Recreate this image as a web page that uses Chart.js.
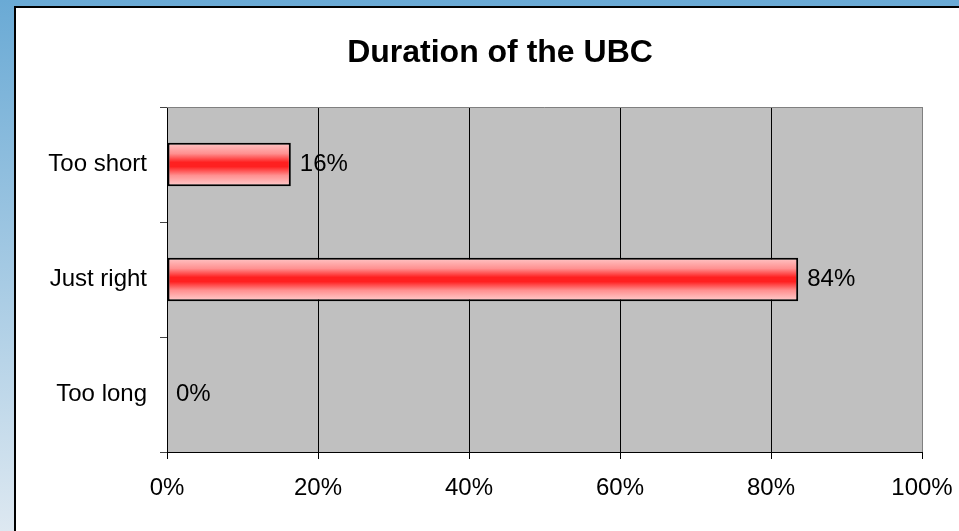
<!DOCTYPE html>
<html><head><meta charset="utf-8">
<script src="https://cdn.jsdelivr.net/npm/chart.js@4"></script>
<style>
html,body{margin:0;padding:0;width:959px;height:531px;overflow:hidden;background:linear-gradient(to bottom,#6AAAD5,#DDE8F1);}
#box{position:absolute;left:14px;top:6px;width:1000px;height:600px;border:2px solid #000;background:#fff;}
#c{position:absolute;left:0;top:0;}
</style></head><body>
<div id="box"></div>
<canvas id="c" width="1010" height="531"></canvas>
<script>
const categories = ['Too short', 'Just right', 'Too long'];
const percentValues = [16.4, 83.6, 0];
const valueLabels = ['16%', '84%', '0%'];
const xTicks = [0, 20, 40, 60, 80, 100];
const chartTitle = 'Duration of the UBC';

const FONT = "'Liberation Sans', Arial, sans-serif";
const BAR_PCT = 0.38;

function barGradient(ctx) {
  const chart = ctx.chart;
  if (!chart.chartArea || !chart.scales.y) return '#FF3030';
  const ys = chart.scales.y;
  const y = ys.getPixelForValue(ctx.dataIndex);
  const half = (ys.height / categories.length) * BAR_PCT / 2;
  const g = chart.ctx.createLinearGradient(0, y - half, 0, y + half);
  g.addColorStop(0, '#FFC8C8');
  g.addColorStop(0.25, '#FF9090');
  g.addColorStop(0.45, '#FF2020');
  g.addColorStop(0.55, '#FF2020');
  g.addColorStop(0.75, '#FF9090');
  g.addColorStop(1, '#FFD0D0');
  return g;
}

const plotBg = {
  id: 'plotBg',
  beforeDraw(chart) {
    // let the category labels extend left of the (narrow) y-axis box
    if (chart.scales.y) chart.scales.y._computeLabelArea = () => undefined;
    const a = chart.chartArea, c = chart.ctx;
    c.save();
    c.fillStyle = '#C0C0C0';
    c.fillRect(a.left, a.top, a.right - a.left, a.bottom - a.top);
    c.restore();
  },
  afterDraw(chart) {
    const a = chart.chartArea, c = chart.ctx;
    c.save();
    c.strokeStyle = '#808080';
    c.lineWidth = 1;
    c.beginPath();
    c.moveTo(a.left, Math.round(a.top) + 0.5);
    c.lineTo(a.right, Math.round(a.top) + 0.5);
    c.stroke();
    c.restore();
  }
};

const dataLabels = {
  id: 'dataLabels',
  afterDatasetsDraw(chart) {
    const c = chart.ctx;
    const meta = chart.getDatasetMeta(0);
    c.save();
    c.fillStyle = '#000';
    c.font = '24px ' + FONT;
    c.textAlign = 'left';
    c.textBaseline = 'middle';
    meta.data.forEach((bar, i) => {
      c.fillText(valueLabels[i], bar.x + 9, bar.y);
    });
    c.restore();
  }
};

new Chart(document.getElementById('c'), {
  type: 'bar',
  data: {
    labels: categories,
    datasets: [{
      data: percentValues,
      backgroundColor: barGradient,
      borderColor: '#000',
      borderWidth: 2,
      borderSkipped: false,
      categoryPercentage: 1,
      barPercentage: BAR_PCT
    }]
  },
  options: {
    indexAxis: 'y',
    responsive: false,
    animation: false,
    devicePixelRatio: 1,
    layout: { padding: { left: 78, right: 88, top: 0, bottom: 0 } },
    plugins: {
      legend: { display: false },
      tooltip: { enabled: false },
      title: {
        display: true,
        text: chartTitle,
        color: '#000',
        font: { family: FONT, size: 32, weight: 'bold', lineHeight: 1.2 },
        padding: { top: 34, bottom: 34.6 }
      }
    },
    scales: {
      x: {
        type: 'linear',
        min: 0,
        max: 100,
        afterBuildTicks: s => { s.ticks = xTicks.map(v => ({ value: v })); },
        ticks: {
          callback: v => v + '%',
          color: '#000',
          font: { family: FONT, size: 24 },
          padding: 15,
          maxRotation: 0,
          autoSkip: false
        },
        grid: {
          color: c => (c.tick && c.tick.value === 100) ? '#808080' : '#000',
          lineWidth: 1,
          tickLength: 7,
          tickColor: '#000'
        },
        border: { color: '#000', width: 1 },
        afterFit: s => { s.height = 79; }
      },
      y: {
        ticks: { color: '#000', font: { family: FONT, size: 24 }, padding: 13 },
        grid: { drawOnChartArea: false, tickLength: 7, color: '#444', offset: true },
        border: { color: '#000', width: 1 },
        afterFit: s => { s.width = 89; }
      }
    }
  },
  plugins: [plotBg, dataLabels]
});
</script>
</body></html>
